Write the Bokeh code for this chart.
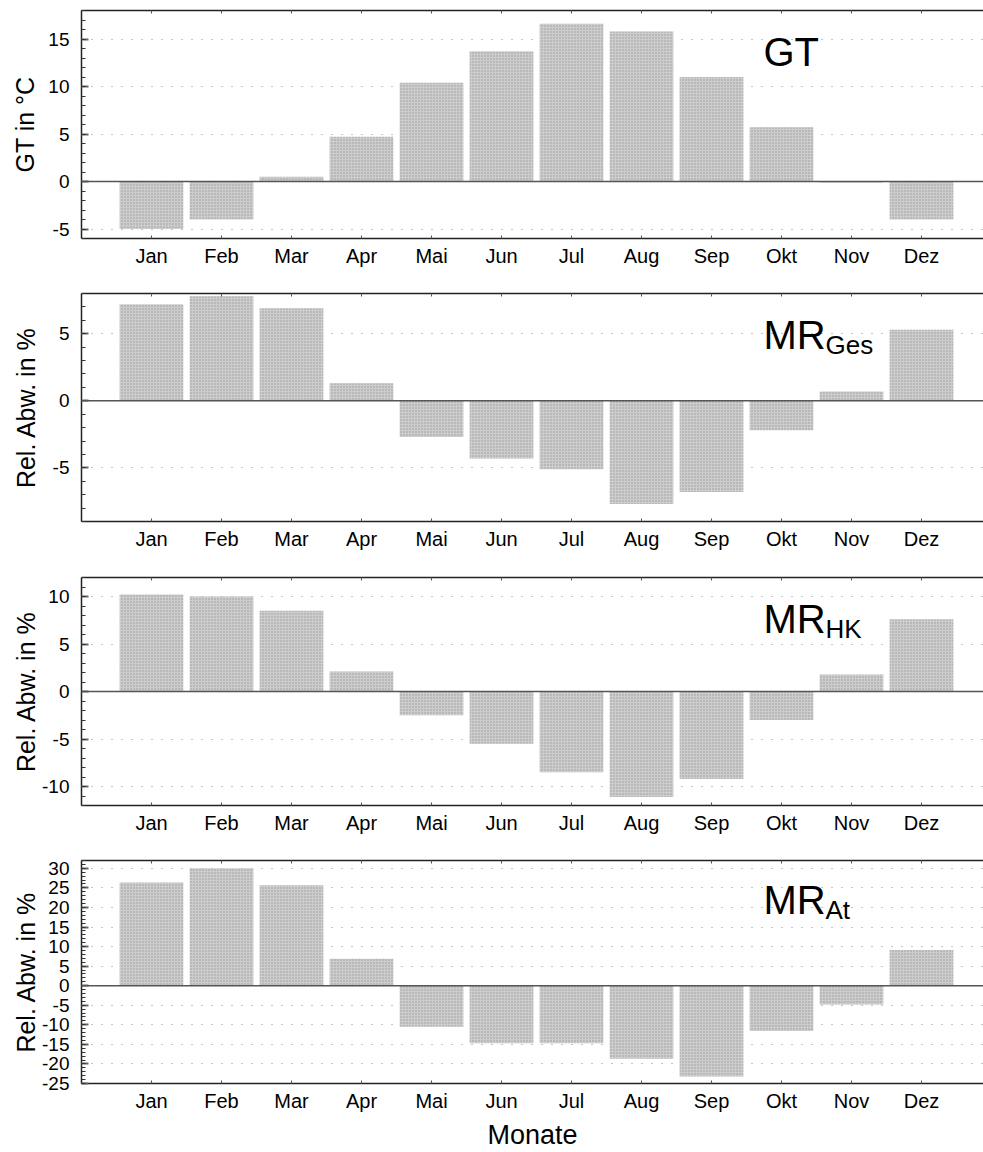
from bokeh.plotting import figure
from bokeh.models import (Range1d, LinearAxis, FixedTicker, SingleIntervalTicker,
                          Span, Label, Grid)
from bokeh.layouts import column
from bokeh.embed import file_html
from bokeh.resources import INLINE

# ---------------- data ----------------
months = ["Jan", "Feb", "Mar", "Apr", "Mai", "Jun", "Jul", "Aug", "Sep", "Okt", "Nov", "Dez"]
month_pos = list(range(1, 13))

gt = [-5.0, -4.0, 0.5, 4.7, 10.4, 13.7, 16.6, 15.8, 11.0, 5.7, -0.1, -4.0]
mr_ges = [7.2, 7.8, 6.9, 1.3, -2.7, -4.3, -5.1, -7.7, -6.8, -2.2, 0.7, 5.3]
mr_hk = [10.2, 10.0, 8.5, 2.1, -2.5, -5.5, -8.5, -11.1, -9.2, -3.0, 1.8, 7.6]
mr_at = [26.4, 30.0, 25.7, 6.9, -10.5, -14.7, -14.7, -18.7, -23.2, -11.6, -4.8, 9.1]

y_labels = ["GT in °C", "Rel. Abw. in %", "Rel. Abw. in %", "Rel. Abw. in %"]
titles = ["GT", "MR", "MR", "MR"]
subs = ["", "Ges", "HK", "At"]
x_label = "Monate"

# ---------------- style ----------------
FONT = "Liberation Sans"
FRAME_W = 902
FRAME_H = 228
LEFT = 81
PX_PER_MONTH = 70.0
BAR_FILL = "#cdcdcd"


def make_panel(vals, y0, y1, ylab, title, sub, height, mb_bottom, lab_standoff, xlab=None):
    p = figure(width=983, height=height,
               x_range=Range1d(0, FRAME_W / PX_PER_MONTH), y_range=Range1d(y0, y1),
               output_backend="svg", toolbar_location=None,
               x_axis_location=None, y_axis_location=None,
               min_border_left=LEFT, min_border_right=0, min_border_top=10,
               min_border_bottom=mb_bottom)
    p.outline_line_color = None
    p.background_fill_color = "white"
    p.border_fill_color = "white"
    p.grid.visible = False

    yticker = SingleIntervalTicker(interval=5, num_minor_ticks=5)
    yax = LinearAxis(ticker=yticker, axis_label=ylab)
    first = int(y0 // 5) * 5
    yax.major_label_overrides = {t: str(t) for t in range(first, int(y1) + 1, 5)}
    yax.axis_label_text_font = FONT
    yax.axis_label_text_font_size = "25px"
    yax.axis_label_text_font_style = "normal"
    yax.axis_label_text_color = "black"
    yax.axis_label_standoff = lab_standoff
    yax.major_label_text_font = FONT
    yax.major_label_text_font_size = "19px"
    yax.major_label_text_color = "black"
    yax.major_label_standoff = 12
    yax.axis_line_color = "#222222"
    yax.axis_line_width = 1.5
    yax.major_tick_in = 7
    yax.major_tick_out = 0
    yax.major_tick_line_color = "#666666"
    yax.major_tick_line_width = 2
    yax.minor_tick_in = 4
    yax.minor_tick_out = 0
    yax.minor_tick_line_color = "#333333"
    p.add_layout(yax, "left")

    xticker = FixedTicker(ticks=month_pos)
    xax = LinearAxis(ticker=xticker)
    xax.major_label_overrides = {m: lab for m, lab in zip(month_pos, months)}
    xax.major_label_text_font = FONT
    xax.major_label_text_font_size = "20px"
    xax.major_label_text_color = "black"
    xax.major_label_standoff = 6
    xax.axis_line_color = "#222222"
    xax.axis_line_width = 1.5
    xax.major_tick_in = 3
    xax.major_tick_out = 0
    xax.major_tick_line_color = "#555555"
    xax.minor_tick_line_color = None
    if xlab:
        xax.axis_label = xlab
        xax.axis_label_text_font = FONT
        xax.axis_label_text_font_size = "27px"
        xax.axis_label_text_font_style = "normal"
        xax.axis_label_text_color = "black"
        xax.axis_label_standoff = 5
    p.add_layout(xax, "below")

    top = LinearAxis(ticker=FixedTicker(ticks=month_pos))
    top.major_label_text_color = None
    top.major_label_text_font_size = "1px"
    top.major_label_standoff = 0
    top.axis_line_color = "#222222"
    top.axis_line_width = 1.5
    top.major_tick_in = 3
    top.major_tick_out = 0
    top.major_tick_line_color = "#555555"
    top.minor_tick_line_color = None
    p.add_layout(top, "above")

    grid = Grid(dimension=1, ticker=yticker)
    grid.grid_line_color = "#888888"
    grid.grid_line_dash = "1 9"
    grid.grid_line_width = 1
    p.add_layout(grid)

    p.vbar(x=month_pos, top=vals, bottom=0, width=0.91,
           fill_color=BAR_FILL, line_color=None,
           hatch_pattern="dot", hatch_scale=3, hatch_color="#999999", hatch_weight=1)

    p.add_layout(Span(location=0, dimension="width", line_color="#555555", line_width=1.5))

    ly = y1 - 56 * (y1 - y0) / FRAME_H
    lx = (763 - LEFT) / PX_PER_MONTH
    p.add_layout(Label(x=lx, y=ly, y_offset=15, text=title, text_font=FONT,
                       text_font_size="40px", text_color="black",
                       text_baseline="alphabetic"))
    if sub:
        p.add_layout(Label(x=lx, y=ly, x_offset=62, y_offset=5, text=sub, text_font=FONT,
                           text_font_size="26px", text_color="black",
                           text_baseline="alphabetic"))
    return p


p1 = make_panel(gt, -6, 18, y_labels[0], titles[0], subs[0], 283, 45, 6)
p2 = make_panel(mr_ges, -9, 8, y_labels[1], titles[1], subs[1], 284, 46, 10)
p3 = make_panel(mr_hk, -12, 12, y_labels[2], titles[2], subs[2], 283, 45, -1)
p4 = make_panel(mr_at, -25, 32, y_labels[3], titles[3], subs[3], 302, 64, -1, x_label)

layout = column(p1, p2, p3, p4, spacing=0)
open("out.html", "w").write(file_html(layout, INLINE))
